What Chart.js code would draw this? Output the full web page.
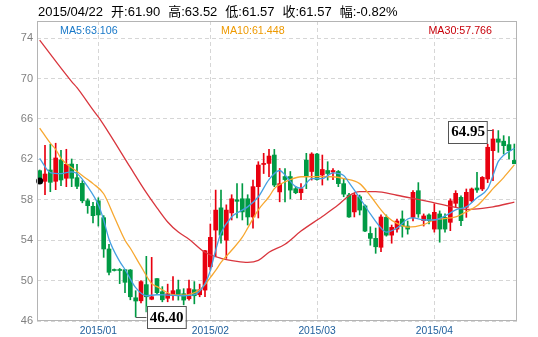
<!DOCTYPE html>
<html>
<head>
<meta charset="utf-8">
<script src="https://cdn.jsdelivr.net/npm/chart.js@4"></script>
<style>
  body { margin: 0; background: #fff; }
</style>
</head>
<body>
<canvas id="myChart" width="538" height="337"></canvas>
<script>
// daily OHLC (Dec 16 2014 .. Apr 22 2015)
const opens = [60.88, 59.83, 60.95, 59.83, 61.94, 60.13, 61.54, 60.19, 59.63, 57.91,
  57.35, 57.9, 56.23, 53.13, 51.1, 51.1, 51.08, 51.05, 48.3, 48.0,
  49.6, 48.15, 50.2, 48.9, 48.25, 48.6, 49.1, 48.7, 48.2, 49.1,
  48.6, 49.06, 51.37, 55.0, 57.2, 54.0, 56.7, 58.0, 58.1, 58.1,
  56.3, 59.3, 61.5, 61.6, 62.43, 58.78, 60.3, 60.3, 59.1, 58.7,
  61.93, 60.8, 62.53, 60.45, 60.9, 60.75, 60.8, 59.6, 58.47, 56.8,
  58.3, 57.4, 54.67, 54.18, 53.3, 56.26, 54.5, 55.1, 56.1, 55.4,
  56.26, 58.9, 55.93, 56.5, 55.1, 56.6, 56.26, 55.77, 57.65, 58.24,
  57.25, 57.9, 59.17, 59.07, 60.06, 62.86, 64.02, 63.8, 63.46, 61.90];
const highs = [60.95, 63.4, 63.5, 63.6, 62.9, 63.0, 62.04, 61.5, 59.9, 58.1,
  57.75, 58.2, 56.43, 53.6, 51.15, 51.2, 51.1, 51.1, 49.0, 50.0,
  52.4, 52.3, 50.2, 49.4, 49.65, 50.4, 50.05, 49.2, 50.05, 49.9,
  49.65, 53.0, 55.6, 58.96, 58.96, 57.5, 58.5, 59.6, 59.6, 58.5,
  59.95, 61.77, 62.6, 62.99, 62.99, 61.1, 61.1, 60.8, 59.3, 59.6,
  62.6, 62.66, 62.6, 62.43, 61.77, 61.1, 60.9, 60.1, 58.63, 58.63,
  58.47, 57.5, 55.33, 55.2, 56.5, 56.5, 55.5, 56.1, 56.9, 55.9,
  58.9, 59.7, 56.6, 56.6, 57.6, 56.9, 56.6, 58.1, 58.9, 58.4,
  59.07, 59.17, 60.72, 60.3, 63.5, 64.95, 64.85, 64.35, 64.25, 63.52];
const lows = [59.6, 58.5, 58.8, 59.0, 59.4, 59.3, 59.3, 59.1, 57.7, 56.66,
  55.7, 55.4, 52.3, 50.55, 50.95, 49.7, 48.8, 48.1, 46.40, 47.8,
  46.9, 48.1, 48.6, 47.9, 47.9, 48.07, 48.07, 47.6, 48.07, 47.7,
  48.4, 48.4, 51.04, 52.36, 53.7, 52.2, 56.0, 56.2, 56.0, 55.5,
  55.2, 56.2, 60.6, 60.28, 59.3, 57.8, 57.8, 58.1, 58.6, 58.0,
  59.1, 59.95, 59.95, 59.46, 59.95, 60.0, 59.3, 58.3, 56.26, 56.3,
  56.5, 54.84, 53.5, 52.7, 52.86, 54.4, 53.7, 54.8, 54.3, 54.6,
  55.9, 56.26, 55.4, 55.6, 54.8, 53.8, 54.8, 54.94, 57.25, 55.44,
  56.26, 57.75, 58.74, 58.9, 59.7, 59.9, 62.7, 62.53, 62.04, 61.57];
const closes = [59.73, 60.55, 59.73, 62.14, 59.96, 61.51, 60.13, 59.33, 57.9, 57.42,
  56.43, 56.5, 53.13, 50.82, 51.0, 51.0, 49.83, 48.4, 47.98, 49.9,
  48.4, 48.4, 48.8, 48.1, 48.7, 49.0, 48.5, 48.07, 49.2, 48.5,
  49.1, 52.96, 54.28, 56.98, 54.5, 56.98, 58.1, 57.85, 56.8, 56.3,
  59.3, 61.44, 61.6, 62.33, 59.46, 59.6, 60.0, 58.96, 58.7, 59.1,
  60.28, 62.53, 60.0, 61.0, 60.6, 60.9, 59.6, 58.56, 56.3, 58.47,
  56.98, 54.9, 54.18, 53.35, 56.3, 54.5, 55.27, 55.9, 55.4, 55.1,
  58.74, 56.6, 56.4, 55.93, 56.76, 55.1, 55.1, 57.9, 58.64, 55.93,
  58.74, 59.07, 58.97, 60.22, 63.2, 64.02, 63.7, 63.36, 62.86, 61.57];

// moving averages at sample days
const ma5Idx = [0, 2, 4, 6, 7, 9, 11, 12, 13, 15, 16, 18, 20, 22, 24, 27, 29, 31, 32, 33, 34, 36, 37, 39, 41, 43, 45, 46, 48, 49, 51, 53, 55, 57, 58, 60, 62, 64, 65, 67, 69, 70, 72, 74, 76, 78, 80, 82, 84, 85, 86, 87, 89];
const ma5 = [62.1, 60.7, 60.6, 60.77, 60.6, 59.3, 57.5, 56.0, 54.1, 51.9, 51.1, 49.3, 48.5, 48.6, 48.57, 48.5, 48.6, 49.7, 51.0, 53.0, 54.7, 56.3, 56.7, 57.3, 58.3, 60.0, 60.9, 60.45, 59.3, 59.15, 60.1, 60.1, 60.67, 60.4, 59.7, 58.2, 56.6, 55.2, 54.8, 55.2, 56.1, 56.2, 56.0, 56.0, 56.4, 57.0, 57.3, 58.2, 59.1, 60.4, 61.8, 62.4, 63.1];
const ma10Idx = [0, 2, 3, 4, 7, 9, 10, 12, 14, 16, 17, 19, 21, 22, 24, 25, 27, 30, 31, 32, 33, 34, 36, 38, 39, 41, 43, 44, 45, 47, 49, 52, 55, 57, 60, 62, 64, 65, 67, 69, 72, 74, 78, 80, 82, 84, 85, 87, 89];
const ma10 = [65.1, 63.6, 63.0, 62.1, 60.8, 60.0, 59.6, 58.6, 56.3, 54.0, 53.2, 51.4, 49.7, 49.4, 48.8, 48.6, 48.55, 49.1, 49.6, 50.3, 51.0, 51.8, 53.0, 54.3, 55.2, 57.0, 58.3, 59.1, 59.5, 60.0, 60.28, 60.3, 60.28, 60.1, 59.6, 58.4, 57.0, 56.4, 55.66, 55.3, 55.55, 56.0, 56.3, 56.8, 57.4, 58.5, 59.1, 60.2, 61.45];
const ma30Idx = [0, 6, 7, 10, 11, 13, 17, 20, 22, 24, 26, 28, 31, 34, 37, 39, 41, 43, 46, 49, 53, 56, 58, 60, 63, 67, 70, 74, 78, 80, 83, 85, 89];
const ma30 = [73.8, 69.7, 69.1, 66.9, 66.2, 64.6, 61.2, 58.7, 57.2, 55.8, 54.8, 54.1, 52.8, 52.2, 51.9, 51.8, 52.0, 52.8, 53.6, 54.9, 56.35, 57.5, 58.4, 58.8, 58.8, 58.45, 58.14, 57.7, 57.25, 57.05, 57.15, 57.3, 57.77];
const markerVal = [59.85];

const yTicks = [46, 50, 54, 58, 62, 66, 70, 74];
const headerText = ['2015/04/22', '开:61.90', '高:63.52', '低:61.57', '收:61.57', '幅:-0.82%'];
const maLabels = ['MA5:63.106', 'MA10:61.448', 'MA30:57.766'];

// trading days
const holidays = ['2014/12/25', '2015/01/01'];
const dates = [];
for (let d = new Date(2014, 11, 16); d <= new Date(2015, 3, 22); d.setDate(d.getDate() + 1)) {
  const wd = d.getDay();
  if (wd === 0 || wd === 6) continue;
  const s = d.getFullYear() + '/' + String(d.getMonth() + 1).padStart(2, '0') + '/' + String(d.getDate()).padStart(2, '0');
  if (!holidays.includes(s)) dates.push(s);
}
const monthIdx = [];
dates.forEach((s, i) => { if (i > 0 && s.slice(5, 7) !== dates[i - 1].slice(5, 7)) monthIdx.push(i); });

const UP = '#e8000f';
const DOWN = '#009a44';
const FONT = '"Liberation Sans", "Noto Sans CJK SC", Arial, sans-serif';
const candleColors = closes.map((c, i) => c >= opens[i] ? UP : DOWN);

const pts = (idx, vals) => idx.map((i, k) => ({ x: dates[i], y: vals[k] }));

const overlay = {
  id: 'overlay',
  afterDraw(chart) {
    const { ctx, chartArea: a, scales: { x, y } } = chart;
    ctx.save();
    // frame
    ctx.strokeStyle = '#b4b4b4';
    ctx.lineWidth = 1;
    ctx.strokeRect(a.left + 0.5, a.top + 0.5, a.right - a.left - 1, a.bottom - a.top - 1);

    // header
    ctx.fillStyle = '#000';
    ctx.font = '13px ' + FONT;
    ctx.textBaseline = 'middle';
    let hx = 38;
    headerText.forEach(t => { ctx.fillText(t, hx, 12.5); hx += ctx.measureText(t).width + 8; });

    // MA legend
    ctx.font = '10.7px ' + FONT;
    ctx.fillStyle = '#1878c8';
    ctx.fillText(maLabels[0], a.left + 23, 31.5);
    ctx.fillStyle = '#ee9900';
    ctx.fillText(maLabels[1], 221, 31.5);
    ctx.fillStyle = '#c8000a';
    ctx.textAlign = 'right';
    ctx.fillText(maLabels[2], a.right - 25, 31.5);
    ctx.textAlign = 'left';

    // min / max markers
    const hiVal = Math.max(...highs), loVal = Math.min(...lows);
    const hiI = highs.indexOf(hiVal), loI = lows.indexOf(loVal);
    ctx.font = 'bold 15px "Liberation Serif", "Times New Roman", serif';
    const box = (txt, bx, cy) => {
      const w = ctx.measureText(txt).width + 5, h = 22;
      ctx.fillStyle = '#fff';
      ctx.fillRect(bx, cy - h / 2, w, h);
      ctx.strokeStyle = '#555';
      ctx.strokeRect(Math.round(bx) + 0.5, Math.round(cy - h / 2) + 0.5, w, h);
      ctx.fillStyle = '#000';
      ctx.fillText(txt, bx + 3, cy + 1);
      return w;
    };
    // high
    const hx0 = x.getPixelForValue(hiI), hy = y.getPixelForValue(hiVal);
    const hiTxt = hiVal.toFixed(2);
    const hw = ctx.measureText(hiTxt).width + 5;
    ctx.strokeStyle = '#555';
    ctx.beginPath();
    ctx.moveTo(hx0 - 6, Math.round(hy) + 0.5);
    ctx.lineTo(hx0, Math.round(hy) + 0.5);
    ctx.stroke();
    box(hiTxt, hx0 - 6 - hw, hy + 2);
    // low
    const lx0 = x.getPixelForValue(loI), ly = y.getPixelForValue(loVal);
    ctx.strokeStyle = '#555';
    ctx.beginPath();
    ctx.moveTo(lx0, Math.round(ly) + 0.5);
    ctx.lineTo(lx0 + 11, Math.round(ly) + 0.5);
    ctx.stroke();
    box(loVal.toFixed(2), lx0 + 11, ly + 0.5);
    ctx.restore();
  }
};

Chart.defaults.font.family = FONT;

const config = {
  type: 'bar',
  data: {
    labels: dates,
    datasets: [
      { type: 'line', data: [{ x: dates[0], y: markerVal[0] }], showLine: false, pointRadius: 3.5, pointBackgroundColor: '#000', pointBorderWidth: 0, order: 0 },
      { type: 'line', label: 'MA5', data: pts(ma5Idx, ma5), borderColor: '#46a0e2', borderWidth: 1.3, pointRadius: 0, cubicInterpolationMode: 'monotone', order: 1 },
      { type: 'line', label: 'MA10', data: pts(ma10Idx, ma10), borderColor: '#f7a831', borderWidth: 1.3, pointRadius: 0, cubicInterpolationMode: 'monotone', order: 1 },
      { type: 'line', label: 'MA30', data: pts(ma30Idx, ma30), borderColor: '#d9363e', borderWidth: 1.3, pointRadius: 0, cubicInterpolationMode: 'monotone', order: 1 },
      { label: 'body', data: opens.map((o, i) => [o, closes[i]]), backgroundColor: candleColors, barThickness: 4, minBarLength: 1, grouped: false, order: 2 },
      { label: 'wick', data: lows.map((l, i) => [l, highs[i]]), backgroundColor: candleColors, barThickness: 1, grouped: false, order: 3 }
    ]
  },
  options: {
    responsive: false,
    animation: false,
    devicePixelRatio: 1,
    layout: { padding: { top: 21, right: 21, left: 0, bottom: 0 } },
    plugins: { legend: { display: false }, tooltip: { enabled: false }, title: { display: false } },
    scales: {
      x: {
        type: 'category',
        offset: true,
        grid: { offset: false, color: '#d6d6d6', drawTicks: false },
        border: { display: false, dash: [4, 3] },
        afterBuildTicks: s => { s.ticks = monthIdx.map(v => ({ value: v })); },
        ticks: {
          autoSkip: false, maxRotation: 0, padding: 4,
          callback: v => dates[v].slice(0, 7),
          color: '#1d5e9c', font: { size: 10.3 }
        },
        afterFit: s => { s.height = 16; }
      },
      y: {
        min: 46,
        max: 75.7,
        afterBuildTicks: s => { s.ticks = yTicks.map(v => ({ value: v })); },
        grid: { color: '#d6d6d6', drawTicks: false },
        border: { display: false, dash: [4, 3] },
        ticks: { color: '#808080', font: { size: 11 }, padding: 4 },
        afterFit: s => { s.width = 37; }
      }
    }
  },
  plugins: [overlay]
};

const myChart = new Chart('myChart', config);
</script>
</body>
</html>
